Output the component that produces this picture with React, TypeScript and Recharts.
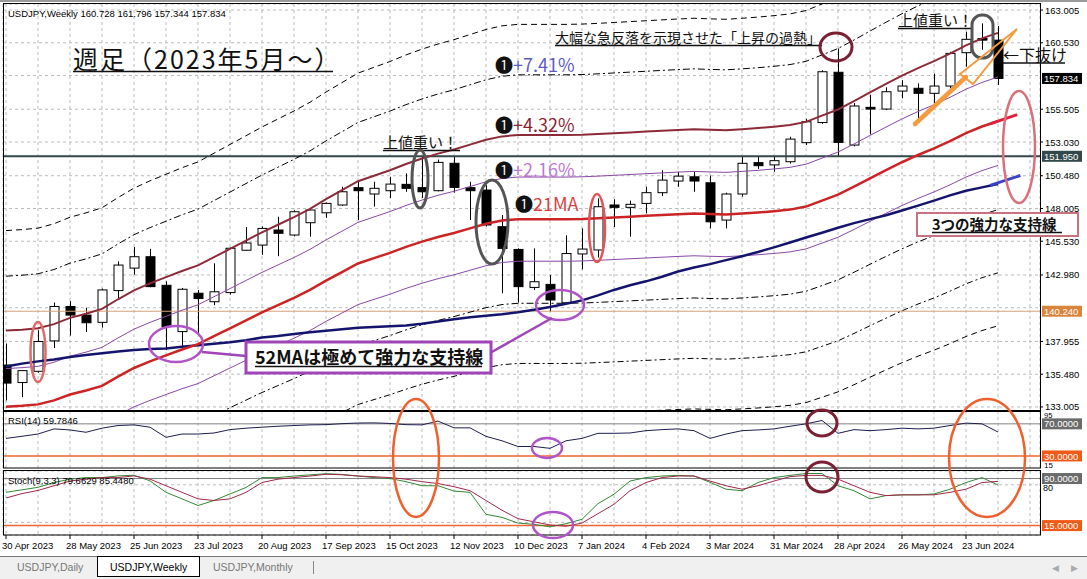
import React from 'react';
import { ComposedChart, Bar, Line, XAxis, YAxis, CartesianGrid, ReferenceLine } from 'recharts';

// USDJPY weekly, 30 Apr 2023 .. 7 Jul 2024 (63 bars)
const opens = [136.17, 134.85, 135.7, 138.0, 140.6, 139.95, 139.4, 141.8, 143.5, 144.36,
  142.2, 138.7, 141.6, 140.96, 141.65, 144.85, 145.24, 146.38, 146.0, 146.93,
  147.68, 148.27, 149.58, 149.1, 149.35, 149.83, 149.58, 149.35, 151.42, 149.58,
  149.4, 146.63, 144.91, 142.04, 142.27, 140.88, 144.57, 144.87, 148.27, 148.09,
  148.39, 149.2, 150.08, 150.4, 149.95, 147.13, 149.1, 151.47, 151.3, 151.54,
  152.98, 154.5, 158.3, 152.8, 155.65, 155.52, 156.88, 157.09, 156.71, 157.26,
  159.78, 160.85, 160.728];
const highs = [137.8, 135.8, 138.8, 140.9, 141.0, 140.5, 141.95, 144.0, 145.1, 144.95,
  142.5, 142.0, 141.85, 143.86, 145.05, 146.6, 146.65, 147.38, 147.87, 147.95,
  148.46, 149.65, 150.15, 150.03, 150.4, 150.66, 151.92, 151.7, 151.9, 150.03,
  149.75, 147.51, 145.0, 144.99, 142.98, 145.98, 146.5, 148.77, 148.7, 148.6,
  149.65, 150.9, 150.78, 150.78, 150.5, 149.2, 151.95, 151.95, 151.95, 153.43,
  154.78, 158.45, 160.1, 155.97, 156.6, 157.16, 157.71, 157.46, 158.2, 159.85,
  161.37, 161.99, 161.796];
const lows = [133.5, 133.75, 135.6, 137.45, 138.4, 138.67, 139.0, 141.2, 143.0, 142.05,
  137.3, 137.55, 138.6, 140.7, 141.5, 144.8, 144.5, 144.4, 145.9, 145.87,
  147.3, 148.2, 147.13, 148.15, 148.8, 149.27, 148.8, 149.3, 149.2, 147.13,
  146.65, 141.6, 140.9, 141.85, 140.2, 140.8, 143.41, 144.3, 146.6, 145.87,
  147.64, 148.94, 149.65, 149.27, 146.5, 146.5, 148.9, 151.0, 150.78, 151.4,
  152.8, 154.4, 151.9, 152.7, 153.6, 155.45, 156.33, 154.6, 155.7, 157.09,
  158.72, 160.0, 157.344];
const closes = [134.81, 135.75, 137.95, 140.6, 139.95, 139.37, 141.85, 143.73, 144.36, 142.1,
  139.07, 141.9, 141.2, 141.71, 145.0, 145.4, 146.5, 146.13, 147.76, 147.89,
  148.39, 149.27, 149.35, 149.53, 149.85, 149.53, 149.27, 151.49, 149.6, 149.35,
  146.76, 144.99, 142.1, 142.47, 141.09, 144.6, 144.94, 148.14, 148.09, 148.32,
  149.2, 150.15, 150.45, 150.08, 147.0, 149.1, 151.42, 151.24, 151.62, 153.25,
  154.56, 158.34, 153.0, 155.75, 155.52, 156.83, 157.26, 156.71, 157.26, 159.73,
  160.79, 160.73, 157.834];

const ma21 = [133.03, 133.1, 133.2, 133.5, 133.95, 134.25, 134.6, 135.3, 135.95, 136.45,
  136.9, 137.35, 137.75, 138.35, 138.95, 139.55, 140.15, 140.7, 141.25, 141.85,
  142.55, 143.2, 143.85, 144.25, 144.65, 145.1, 145.5, 145.85, 146.15, 146.5,
  146.85, 147.1, 147.2, 147.2, 147.2, 147.2, 147.22, 147.27, 147.33, 147.39,
  147.45, 147.51, 147.57, 147.62, 147.58, 147.55, 147.62, 147.7, 147.8, 147.92,
  148.15, 148.6, 149.05, 149.65, 150.28, 150.9, 151.5, 152.05, 152.55, 153.1,
  153.7, 154.2, 154.6];
const ma52 = [136.07, 136.28, 136.45, 136.6, 136.78, 136.93, 137.07, 137.2, 137.31, 137.38,
  137.43, 137.55, 137.67, 137.78, 137.9, 138.05, 138.25, 138.37, 138.52, 138.65,
  138.77, 138.88, 138.99, 139.04, 139.1, 139.17, 139.3, 139.47, 139.64, 139.78,
  139.9, 140.02, 140.17, 140.35, 140.56, 140.8, 141.06, 141.44, 141.85, 142.2,
  142.5, 142.85, 143.24, 143.55, 143.8, 144.1, 144.4, 144.72, 145.07, 145.43,
  145.81, 146.17, 146.55, 146.9, 147.2, 147.5, 147.85, 148.22, 148.6, 149.0,
  149.35, 149.6, 149.85];

// envelope widths around the 21MA, in percent (from the chart labels)
const envInner = 2.16;
const envMid = 4.32;
const envOuter = 7.41;
const envFar = 10;

const rsi14 = [51.9, 54.5, 57.3, 63.7, 62.4, 59.5, 64.6, 67.9, 68.7, 65.8,
  53.2, 57.3, 57.3, 58.6, 62.8, 64.6, 65.8, 67.0, 67.9, 68.7,
  69.0, 70.2, 71.0, 71.2, 70.5, 69.0, 68.7, 73.4, 65.0, 65.0,
  54.4, 48.9, 41.8, 41.8, 39.5, 48.9, 51.9, 58.2, 58.2, 58.6,
  61.5, 62.8, 63.7, 61.5, 51.9, 57.3, 61.5, 62.4, 63.7, 67.0,
  70.0, 74.2, 58.2, 62.8, 61.5, 62.8, 64.6, 63.7, 64.6, 67.9,
  70.9, 70.0, 59.7846];
const stochK = [68, 72, 76, 83.6, 89, 91.5, 91.5, 94.2, 95.2, 86.3,
  68, 57.6, 47, 55, 65.4, 75.8, 91.5, 91.5, 94, 95.8,
  97.7, 96.5, 94, 91.5, 90, 85, 78.5, 78.5, 70, 68,
  33, 28, 19, 17, 13, 18, 25, 50, 65, 86,
  91.5, 94, 95, 94, 84, 73, 70.6, 83.6, 91.5, 95,
  98, 98, 78.5, 70.6, 57.6, 62.8, 64, 64, 65.4, 73,
  83.6, 91.5, 79.6629];
const stochD = [59, 66, 71, 78.5, 86, 89, 91.5, 91.5, 94.2, 89,
  78.5, 68, 57.6, 55, 57.6, 68, 83.6, 89, 91.5, 94,
  96.8, 96, 94, 92.8, 91.5, 89, 85, 82, 77, 70.6,
  55, 39.4, 26, 21, 16, 14, 19, 34, 49, 70.6,
  83.6, 91.5, 94, 94, 86, 78.5, 73, 78.5, 86, 93,
  95, 95, 89, 78.5, 68, 62.8, 64, 64, 64, 68,
  73, 83.6, 85.448];

const priceTicks = [163.005, 160.53, 158.055, 155.505, 153.03, 150.48, 148.005, 145.53, 142.98, 140.505, 137.955, 135.48, 133.005];
const hiddenPriceLabels = [158.055, 140.505];
const resistance = 151.95;
const oldLevel = 140.24;

const dateLabels = ['30 Apr 2023', '28 May 2023', '25 Jun 2023', '23 Jul 2023', '20 Aug 2023', '17 Sep 2023',
  '15 Oct 2023', '12 Nov 2023', '10 Dec 2023', '7 Jan 2024', '4 Feb 2024', '3 Mar 2024', '31 Mar 2024',
  '28 Apr 2024', '26 May 2024', '23 Jun 2024'];
const LABEL_STEP = 4;

const rows = opens.map((open, i) => {
  const m = ma21[i];
  return {
    i, open, high: highs[i], low: lows[i], close: closes[i],
    ma21: m, ma52: ma52[i],
    upIn: m * (1 + envInner / 100), dnIn: m * (1 - envInner / 100),
    upMid: m * (1 + envMid / 100), dnMid: m * (1 - envMid / 100),
    upOut: m * (1 + envOuter / 100), dnOut: m * (1 - envOuter / 100),
    upFar: m * (1 + envFar / 100), dnFar: m * (1 - envFar / 100),
    rsi: rsi14[i], k: stochK[i], d: stochD[i],
  };
});

const last = opens.length - 1;
const W = 1087;
const X_DOMAIN: [number, number] = [-0.1875, 64.625];
const gridTicks = Array.from({ length: 33 }, (_, n) => n * 2);
const AXIS_FONT = '"Liberation Sans", Arial, sans-serif';
const JP_FONT = '"Noto Sans CJK JP", "DejaVu Sans", sans-serif';
const GRID = '#bcbcbc';

const Candle = (props: any) => {
  const { x, y, width, height, payload } = props;
  if (!payload) return null;
  const { open, close, high, low } = payload;
  const cx = Math.round(x + width / 2) + 0.5;
  const k = height / (high - low);
  const yO = y + (high - open) * k;
  const yC = y + (high - close) * k;
  const top = Math.min(yO, yC);
  const bot = Math.max(yO, yC);
  const bull = close >= open;
  return (
    <g>
      <line x1={cx} x2={cx} y1={y} y2={y + height} stroke="#000" />
      {bot - top < 1.2 ? (
        <line x1={cx - 5} x2={cx + 5} y1={top} y2={top} stroke="#000" strokeWidth={1.5} />
      ) : (
        <rect x={cx - 4.5} y={top} width={9} height={bot - top} fill={bull ? '#fff' : '#000'} stroke="#000" />
      )}
    </g>
  );
};

const PriceTick = (props: any) => {
  const { x, y, payload } = props;
  if (hiddenPriceLabels.includes(payload.value)) return null;
  return (
    <g>
      <line x1={x} x2={x + 3} y1={y} y2={y} stroke="#000" />
      <text x={x + 5} y={y + 3.5} fontSize={9.5} fontFamily={AXIS_FONT} fill="#000">{payload.value.toFixed(3)}</text>
    </g>
  );
};

const StochTick = (props: any) => {
  const { x, y, payload } = props;
  if (payload.value !== 80) return null;
  return <text x={x + 3} y={y + 6} fontSize={9} fontFamily={AXIS_FONT} fill="#000">80</text>;
};

const DateTick = (props: any) => {
  const { x, y, payload } = props;
  const idx = payload.value;
  if (idx % LABEL_STEP !== 0) return null;
  const label = dateLabels[idx / LABEL_STEP];
  if (!label) return null;
  return (
    <g>
      <line x1={x} x2={x} y1={y} y2={y + 4} stroke="#000" />
      <text x={x - 4} y={y + 14} fontSize={9.5} fontFamily={AXIS_FONT} fill="#000">{label}</text>
    </g>
  );
};

const flag = (text: string, bg: string) => (props: any) => {
  const { viewBox } = props;
  if (!viewBox) return null;
  const x = viewBox.x + viewBox.width;
  const y = viewBox.y;
  return (
    <g>
      <rect x={x + 2} y={y - 5.5} width={40} height={11} fill={bg} />
      <text x={x + 4} y={y + 3.6} fontSize={9.5} fontFamily={AXIS_FONT} fill="#fff">{text}</text>
    </g>
  );
};

const UText = ({ x, y, w, size, children, weight, spacing = 0, color = '#111' }: any) => (
  <g>
    <text x={x} y={y} fontSize={size} fontFamily={JP_FONT} fontWeight={weight || 'normal'} letterSpacing={spacing} fill={color}>{children}</text>
    <line x1={x} x2={x + w} y1={y + 2.5} y2={y + 2.5} stroke={color} strokeWidth={1.3} />
  </g>
);

const Overlay = () => (
  <svg width={W} height={579} style={{ position: 'absolute', left: 0, top: 0, pointerEvents: 'none' }}>
    {/* panel frames */}
    <rect x={3.5} y={3.5} width={1037} height={407} fill="none" stroke="#000" />
    <rect x={3.5} y={411.5} width={1037} height={56.5} fill="none" stroke="#000" />
    <rect x={3.5} y={470.5} width={1037} height={64.5} fill="none" stroke="#000" />
    <line x1={0} x2={W} y1={1} y2={1} stroke="#9a9a9a" strokeWidth={2} />

    <text x={8} y={17} fontSize={9.5} fontFamily={AXIS_FONT}>
      {`USDJPY,Weekly  ${opens[last].toFixed(3)} ${highs[last].toFixed(3)} ${lows[last].toFixed(3)} ${closes[last].toFixed(3)}`}
    </text>
    <text x={8} y={424} fontSize={9.5} fontFamily={AXIS_FONT}>{`RSI(14) ${rsi14[last].toFixed(4)}`}</text>
    <text x={8} y={484} fontSize={9.5} fontFamily={AXIS_FONT}>{`Stoch(9,3,3) ${stochK[last].toFixed(4)} ${stochD[last].toFixed(4)}`}</text>
    <text x={1044} y={418} fontSize={7.5} fontFamily={AXIS_FONT}>95</text>
    <text x={1044} y={468} fontSize={8} fontFamily={AXIS_FONT}>15</text>

    {/* headline texts */}
    <UText x={73} y={69} w={260} size={25} spacing={2}>週足（2023年5月〜）</UText>
    <UText x={555} y={43} w={267} size={14}>大幅な急反落を示現させた「上昇の過熱」</UText>
    <UText x={383} y={148} w={77} size={15}>上値重い！</UText>
    <UText x={898} y={26} w={74} size={15}>上値重い！</UText>
    <UText x={1003} y={60.5} w={62} size={16}>←下抜け</UText>

    <text x={495} y={72} fontSize={18} fontFamily={JP_FONT}><tspan fill="#111">❶</tspan><tspan fill="#5b5bc9">+7.41%</tspan></text>
    <text x={495} y={132} fontSize={18} fontFamily={JP_FONT}><tspan fill="#111">❶</tspan><tspan fill="#8c1f33">+4.32%</tspan></text>
    <text x={495} y={177} fontSize={18} fontFamily={JP_FONT}><tspan fill="#111">❶</tspan><tspan fill="#be78d2">+2.16%</tspan></text>
    <text x={515} y={211} fontSize={18} fontFamily={JP_FONT}><tspan fill="#111">❶</tspan><tspan fill="#dc3c3c">21MA</tspan></text>

    {/* ellipses in the price panel */}
    <ellipse cx={38} cy={352} rx={7.5} ry={30} fill="none" stroke="#e06a6a" strokeWidth={2.5} />
    <ellipse cx={176} cy={344} rx={27} ry={18} fill="none" stroke="#b055c8" strokeWidth={2.5} />
    <ellipse cx={560} cy={305} rx={24} ry={15} fill="none" stroke="#b055c8" strokeWidth={2.5} />
    <ellipse cx={420} cy={179} rx={8} ry={29} fill="none" stroke="#555" strokeWidth={3} />
    <ellipse cx={492} cy={222} rx={16} ry={42} fill="none" stroke="#555" strokeWidth={3} />
    <ellipse cx={597} cy={228} rx={8} ry={34} fill="none" stroke="#e05555" strokeWidth={2.5} />
    <ellipse cx={836} cy={47} rx={16} ry={14} fill="none" stroke="#7b1f33" strokeWidth={3} />
    <rect x={972} y={15} width={21} height={43} rx={10} fill="none" stroke="#555" strokeWidth={3} />
    <ellipse cx={1019} cy={147} rx={16} ry={56} fill="none" stroke="#d9707a" strokeWidth={2.5} />

    {/* orange arrow */}
    <line x1={915} y1={124} x2={966} y2={77} stroke="#f39b3e" strokeWidth={4.5} strokeLinecap="round" />
    <polygon points="960,74 1017,29 973,84" fill="none" stroke="#f39b3e" strokeWidth={2} />

    {/* 52MA box */}
    <line x1={202} y1={352} x2={246} y2={356} stroke="#a045b8" strokeWidth={2.5} />
    <line x1={490} y1={353} x2={552} y2={318} stroke="#a045b8" strokeWidth={2.5} />
    <rect x={246} y={342} width={245} height={31} fill="#fff" stroke="#a045b8" strokeWidth={3} />
    <UText x={255} y={364} w={227} size={18} weight="bold">52MAは極めて強力な支持線</UText>

    {/* support box */}
    <rect x={917} y={213} width={161} height={23} fill="#fff" stroke="#c6727f" strokeWidth={2} />
    <UText x={932} y={230} w={130} size={14.5} weight="bold">3つの強力な支持線</UText>

    {/* indicator ellipses */}
    <ellipse cx={416} cy={458} rx={23} ry={59} fill="none" stroke="#f0602e" strokeWidth={2.5} />
    <ellipse cx={987} cy={458} rx={38} ry={59} fill="none" stroke="#f0602e" strokeWidth={2.5} />
    <ellipse cx={547} cy={448} rx={15} ry={10} fill="none" stroke="#b055c8" strokeWidth={2.5} />
    <ellipse cx={553} cy={525} rx={20} ry={13} fill="none" stroke="#b055c8" strokeWidth={2.5} />
    <ellipse cx={822} cy={423} rx={15} ry={13} fill="none" stroke="#7b1f33" strokeWidth={3} />
    <ellipse cx={822} cy={477} rx={16} ry={15} fill="none" stroke="#7b1f33" strokeWidth={3} />

    {/* tab bar */}
    <line x1={0} x2={W} y1={556.5} y2={556.5} stroke="#777" />
    <rect x={0} y={557} width={W} height={22} fill="#f0f0f0" />
    <rect x={97.5} y={556.5} width={102} height={20} fill="#fff" stroke="#000" />
    <text x={17} y={571} fontSize={10.5} fontFamily={AXIS_FONT} fill="#777">USDJPY,Daily</text>
    <text x={110} y={571} fontSize={10.5} fontFamily={AXIS_FONT} fill="#000">USDJPY,Weekly</text>
    <text x={213} y={571} fontSize={10.5} fontFamily={AXIS_FONT} fill="#777">USDJPY,Monthly</text>
    <line x1={313.5} x2={313.5} y1={561} y2={574} stroke="#888" />
    <text x={1052} y={571} fontSize={9} fill="#aaa">◀</text>
    <text x={1071} y={571} fontSize={9} fill="#aaa">▶</text>
  </svg>
);

export default function App() {
  return (
    <div style={{ position: 'fixed', left: 0, top: 0, width: W, height: 579, background: '#fff', overflow: 'hidden' }}>
      <div style={{ position: 'absolute', left: 0, top: 0 }}>
        <ComposedChart width={W} height={411} data={rows} margin={{ top: 4, right: 0, bottom: 0, left: 3 }}>
          <CartesianGrid stroke={GRID} strokeDasharray="3 3" />
          <XAxis dataKey="i" type="number" domain={X_DOMAIN} ticks={gridTicks} hide allowDataOverflow />
          <YAxis orientation="right" width={47} domain={[132.7, 163.46]} ticks={priceTicks} interval={0}
            allowDataOverflow axisLine={false} tickLine={false} tickSize={0} tickMargin={0} tick={<PriceTick />} />
          <ReferenceLine y={resistance} stroke="#33484a" strokeWidth={2} label={flag(resistance.toFixed(3), '#33484a')} />
          <ReferenceLine y={oldLevel} stroke="#d8a07a" label={flag(oldLevel.toFixed(3), '#d9843a')} />
          <ReferenceLine y={closes[last]} stroke="none" label={flag(closes[last].toFixed(3), '#000')} />
          <Bar dataKey={(d: any) => [d.low, d.high]} shape={<Candle />} barSize={10} isAnimationActive={false} />
          <Line dataKey="upFar" stroke="#000" strokeWidth={1} strokeDasharray="6 4" dot={false} isAnimationActive={false} />
          <Line dataKey="upOut" stroke="#000" strokeWidth={1} strokeDasharray="7 3 2 3" dot={false} isAnimationActive={false} />
          <Line dataKey="upMid" stroke="#8c2a38" strokeWidth={2} dot={false} isAnimationActive={false} />
          <Line dataKey="upIn" stroke="#8a48a8" strokeWidth={1} dot={false} isAnimationActive={false} />
          <Line dataKey="dnIn" stroke="#8a48a8" strokeWidth={1} dot={false} isAnimationActive={false} />
          <Line dataKey="dnMid" stroke="#000" strokeWidth={1} strokeDasharray="7 3 2 3" dot={false} isAnimationActive={false} />
          <Line dataKey="dnOut" stroke="#000" strokeWidth={1} strokeDasharray="6 3 2 3" dot={false} isAnimationActive={false} />
          <Line dataKey="dnFar" stroke="#000" strokeWidth={1} strokeDasharray="6 4" dot={false} isAnimationActive={false} />
          <Line dataKey="ma52" stroke="#14146e" strokeWidth={2.5} dot={false} isAnimationActive={false} />
          <Line dataKey="ma21" stroke="#cc2424" strokeWidth={2.5} dot={false} isAnimationActive={false} />
          <ReferenceLine segment={[{ x: 61.5, y: 154.4 }, { x: 63.2, y: 155.1 }]} stroke="#e0203a" strokeWidth={3} ifOverflow="visible" />
          <ReferenceLine segment={[{ x: 61.5, y: 149.75 }, { x: 63.4, y: 150.5 }]} stroke="#3a44c8" strokeWidth={3} ifOverflow="visible" />
        </ComposedChart>
      </div>

      <div style={{ position: 'absolute', left: 0, top: 411 }}>
        <ComposedChart width={W} height={57} data={rows} margin={{ top: 0, right: 0, bottom: 0, left: 3 }}>
          <CartesianGrid stroke={GRID} strokeDasharray="3 3" horizontal={false} />
          <XAxis dataKey="i" type="number" domain={X_DOMAIN} ticks={gridTicks} hide allowDataOverflow />
          <YAxis orientation="right" width={47} domain={[15, 86]} ticks={[]} tick={false} axisLine={false} tickLine={false} allowDataOverflow />
          <ReferenceLine y={70} stroke="#808080" label={flag('70.0000', '#6b6b6b')} />
          <ReferenceLine y={30} stroke="#f0652a" strokeWidth={1.5} label={flag('30.0000', '#f05a16')} />
          <Line dataKey="rsi" stroke="#1e1e50" strokeWidth={1} dot={false} isAnimationActive={false} />
        </ComposedChart>
      </div>

      <div style={{ position: 'absolute', left: 0, top: 471 }}>
        <ComposedChart width={W} height={81} data={rows} margin={{ top: 0, right: 0, bottom: 0, left: 3 }}>
          <CartesianGrid stroke={GRID} strokeDasharray="3 3" />
          <XAxis dataKey="i" type="number" domain={X_DOMAIN} ticks={gridTicks} interval={0} height={17}
            allowDataOverflow axisLine={false} tickLine={false} tickSize={0} tickMargin={0} tick={<DateTick />} />
          <YAxis orientation="right" width={47} domain={[0, 102]} ticks={[20, 80]} interval={0} allowDataOverflow
            axisLine={false} tickLine={false} tickSize={0} tickMargin={0} tick={<StochTick />} />
          <ReferenceLine y={90} stroke="#808080" label={flag('90.0000', '#6b6b6b')} />
          <ReferenceLine y={15} stroke="#f0652a" strokeWidth={1.5} label={flag('15.0000', '#f05a16')} />
          <Line dataKey="k" stroke="#338833" strokeWidth={1} dot={false} isAnimationActive={false} />
          <Line dataKey="d" stroke="#a0284a" strokeWidth={1} dot={false} isAnimationActive={false} />
        </ComposedChart>
      </div>

      <Overlay />
    </div>
  );
}
